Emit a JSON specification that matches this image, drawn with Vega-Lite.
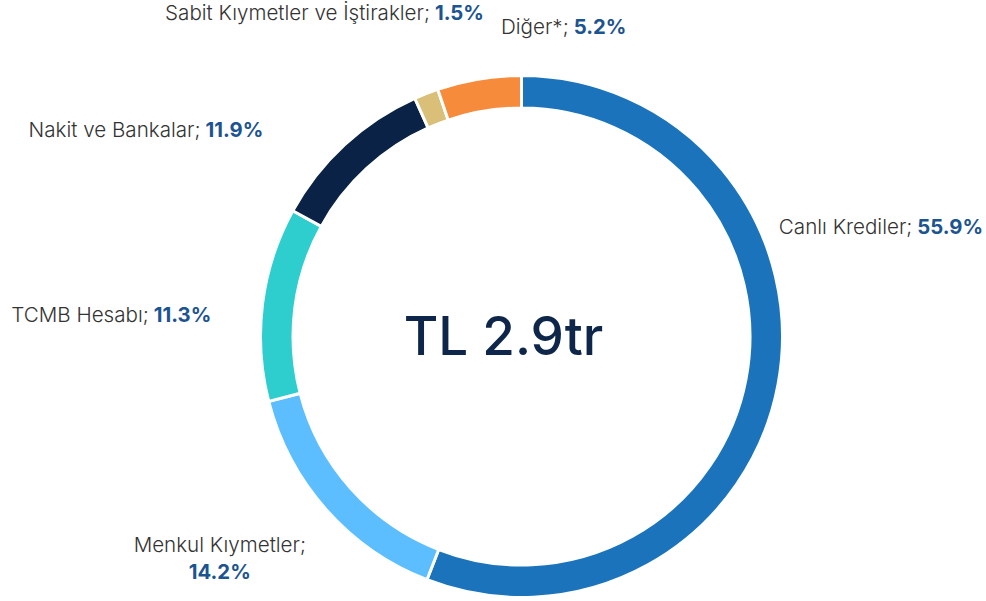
{
  "$schema": "https://vega.github.io/schema/vega-lite/v6.json",
  "autosize": "none",
  "width": 929,
  "height": 529,
  "padding": {"left": 57, "top": 72, "right": 0, "bottom": 0},
  "background": "#ffffff",
  "config": {"view": {"stroke": null}},
  "data": {"values": [
    {"label": "Canlı Krediler", "arc": 55.9, "pct": 55.9},
    {"label": "Menkul Kıymetler", "arc": 15.1, "pct": 14.2},
    {"label": "TCMB Hesabı", "arc": 12.0, "pct": 11.3},
    {"label": "Nakit ve Bankalar", "arc": 10.3, "pct": 11.9},
    {"label": "Sabit Kıymetler ve İştirakler", "arc": 1.5, "pct": 1.5},
    {"label": "Diğer*", "arc": 5.2, "pct": 5.2}
  ]},
  "transform": [
    {"window": [{"op": "row_number", "as": "idx"}]},
    {"calculate": "datum.label + ';'", "as": "name_txt"},
    {"calculate": "format(datum.pct, '.1f') + '%'", "as": "pct_txt"}
  ],
  "layer": [
    {
      "mark": {"type": "arc", "outerRadius": 261, "innerRadius": 228.5, "stroke": "#ffffff", "strokeWidth": 3},
      "encoding": {
        "theta": {"field": "arc", "type": "quantitative", "stack": true},
        "order": {"field": "idx", "type": "quantitative"},
        "color": {
          "field": "label", "type": "nominal", "legend": null,
          "scale": {
            "domain": ["Canlı Krediler", "Menkul Kıymetler", "TCMB Hesabı", "Nakit ve Bankalar", "Sabit Kıymetler ve İştirakler", "Diğer*"],
            "range": ["#1b74bb", "#5dbeff", "#2ecece", "#0a2246", "#d9bf77", "#f68b3b"]
          }
        }
      }
    },
    {
      "encoding": {
        "theta": {"field": "arc", "type": "quantitative", "stack": true},
        "order": {"field": "idx", "type": "quantitative"}
      },
      "layer": [
        {"mark": {"type": "text", "radius": 300, "align": "right", "baseline": "alphabetic", "dx": 96, "dy": -158, "font": "Inter", "fontSize": 20.6, "fontWeight": 300, "color": "#333333"},
         "encoding": {"text": {"condition": {"test": "datum.label === 'Canlı Krediler'", "field": "name_txt"}, "value": ""}}},
        {"mark": {"type": "text", "radius": 300, "align": "left", "baseline": "alphabetic", "dx": 101, "dy": -158, "font": "Inter", "fontSize": 20.3, "fontWeight": 700, "color": "#1b5490"},
         "encoding": {"text": {"condition": {"test": "datum.label === 'Canlı Krediler'", "field": "pct_txt"}, "value": ""}}},

        {"mark": {"type": "text", "radius": 300, "align": "right", "baseline": "alphabetic", "dx": 96, "dy": -6, "font": "Inter", "fontSize": 20.6, "fontWeight": 300, "color": "#333333"},
         "encoding": {"text": {"condition": {"test": "datum.label === 'Diğer*'", "field": "name_txt"}, "value": ""}}},
        {"mark": {"type": "text", "radius": 300, "align": "left", "baseline": "alphabetic", "dx": 101, "dy": -6, "font": "Inter", "fontSize": 20.3, "fontWeight": 700, "color": "#1b5490"},
         "encoding": {"text": {"condition": {"test": "datum.label === 'Diğer*'", "field": "pct_txt"}, "value": ""}}},

        {"mark": {"type": "text", "radius": 300, "align": "right", "baseline": "alphabetic", "dx": 18, "dy": -37, "font": "Inter", "fontSize": 20.6, "fontWeight": 300, "color": "#333333"},
         "encoding": {"text": {"condition": {"test": "datum.label === 'Sabit Kıymetler ve İştirakler'", "field": "name_txt"}, "value": ""}}},
        {"mark": {"type": "text", "radius": 300, "align": "left", "baseline": "alphabetic", "dx": 23, "dy": -37, "font": "Inter", "fontSize": 20.3, "fontWeight": 700, "color": "#1b5490"},
         "encoding": {"text": {"condition": {"test": "datum.label === 'Sabit Kıymetler ve İştirakler'", "field": "pct_txt"}, "value": ""}}},

        {"mark": {"type": "text", "radius": 300, "align": "right", "baseline": "alphabetic", "dx": -117.7, "dy": 21.3, "font": "Inter", "fontSize": 20.6, "fontWeight": 300, "color": "#333333"},
         "encoding": {"text": {"condition": {"test": "datum.label === 'Nakit ve Bankalar'", "field": "name_txt"}, "value": ""}}},
        {"mark": {"type": "text", "radius": 300, "align": "left", "baseline": "alphabetic", "dx": -112.7, "dy": 21.3, "font": "Inter", "fontSize": 20.3, "fontWeight": 700, "color": "#1b5490"},
         "encoding": {"text": {"condition": {"test": "datum.label === 'Nakit ve Bankalar'", "field": "pct_txt"}, "value": ""}}},

        {"mark": {"type": "text", "radius": 300, "align": "right", "baseline": "alphabetic", "dx": -75.1, "dy": 23.5, "font": "Inter", "fontSize": 20.6, "fontWeight": 300, "color": "#333333"},
         "encoding": {"text": {"condition": {"test": "datum.label === 'TCMB Hesabı'", "field": "name_txt"}, "value": ""}}},
        {"mark": {"type": "text", "radius": 300, "align": "left", "baseline": "alphabetic", "dx": -70.1, "dy": 23.5, "font": "Inter", "fontSize": 20.3, "fontWeight": 700, "color": "#1b5490"},
         "encoding": {"text": {"condition": {"test": "datum.label === 'TCMB Hesabı'", "field": "pct_txt"}, "value": ""}}},

        {"mark": {"type": "text", "radius": 300, "align": "center", "baseline": "alphabetic", "dx": -77.3, "dy": 16.3, "font": "Inter", "fontSize": 20.6, "fontWeight": 300, "color": "#333333"},
         "encoding": {"text": {"condition": {"test": "datum.label === 'Menkul Kıymetler'", "field": "name_txt"}, "value": ""}}},
        {"mark": {"type": "text", "radius": 300, "align": "center", "baseline": "alphabetic", "dx": -77.3, "dy": 43.3, "font": "Inter", "fontSize": 20.3, "fontWeight": 700, "color": "#1b5490"},
         "encoding": {"text": {"condition": {"test": "datum.label === 'Menkul Kıymetler'", "field": "pct_txt"}, "value": ""}}}
      ]
    },
    {
      "data": {"values": [{"total": "TL 2.9tr"}]},
      "mark": {"type": "text", "align": "center", "baseline": "alphabetic", "dx": -18, "dy": 18.5, "font": "Inter", "fontSize": 53, "fontWeight": 500, "color": "#0e2649"},
      "encoding": {"text": {"field": "total", "type": "nominal"}}
    }
  ]
}
